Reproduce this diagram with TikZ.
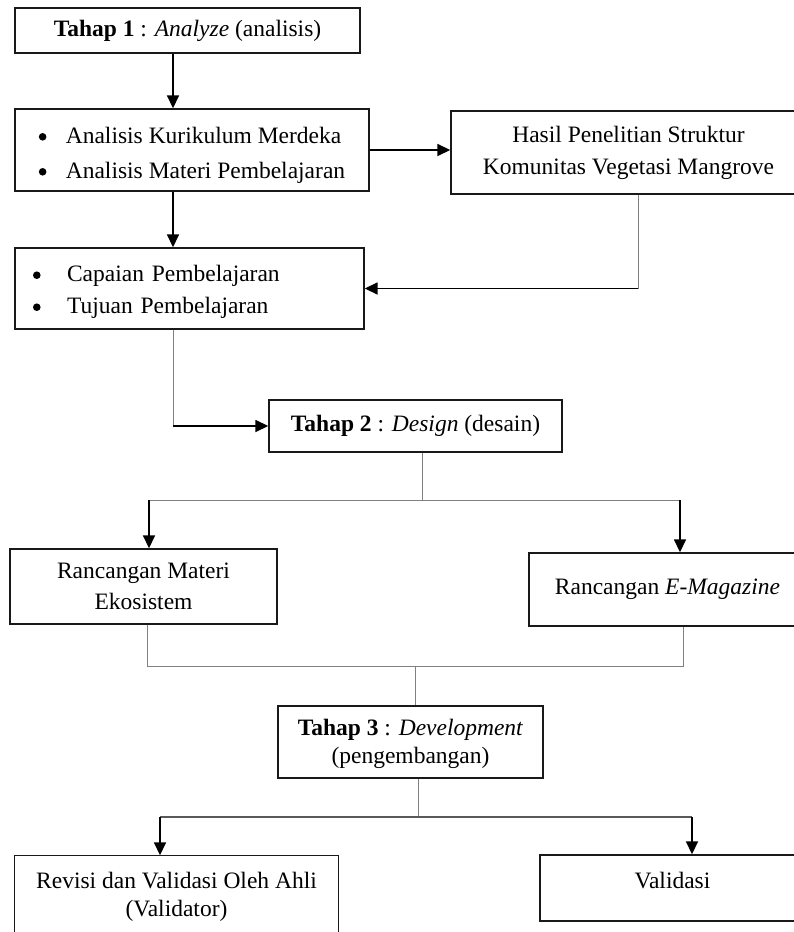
\documentclass[tikz,border=0pt]{standalone}
\usepackage{fontspec}
\setmainfont{Liberation Serif}
\usetikzlibrary{arrows.meta,calc}
\newcommand\blt{\tikz[baseline=-6.7pt]\fill[black] (0pt,0pt) circle (3.8pt);}
\newcommand\shiftby[2]{\vphantom{#2}\raisebox{#1}{\smash{#2}}}
\begin{document}
\begin{tikzpicture}[x=1pt,y=-1pt,
  box/.style={draw=black!90, line width=1.4pt, rectangle, inner sep=0pt, align=center,
    font=\fontsize{23.5}{32}\selectfont},
  boxline/.style={draw=black!90, line width=1.4pt},
  arr/.style={draw=black, line width=1.6pt, -{Triangle[length=13pt,width=12pt]}},
  gln/.style={draw=black!50, line width=1pt},
  gln2/.style={draw=black!65, line width=1.1pt},
  ]
\useasboundingbox (0,0) rectangle (793,932);

% boxes
\node[box, minimum width=345pt, minimum height=45pt] (t1) at (187.5,30.5)
  {\textbf{Tahap 1} : \textit{Analyze} (analisis)};
\node[box, minimum width=354pt, minimum height=82pt,
  font=\fontsize{23.5}{35}\selectfont] (an) at (192,150)
  {\shiftby{-4pt}{\begin{tabular}{@{}l@{}}\makebox[27pt][l]{\blt}Analisis Kurikulum Merdeka\\\makebox[27pt][l]{\blt}Analisis Materi Pembelajaran\end{tabular}}};
\node[box, minimum width=355pt, minimum height=83pt] (ha) at (628.5,152.5)
  {Hasil Penelitian Struktur\\Komunitas Vegetasi Mangrove};
\node[box, minimum width=349pt, minimum height=81pt, text width=313pt, inner xsep=18pt,
  align=left] (cp) at (189.5,288.5)
  {\shiftby{-3pt}{\begin{tabular}{@{}l@{}}\makebox[34pt][l]{\blt}Capaian Pembelajaran\\\makebox[34pt][l]{\blt}Tujuan Pembelajaran\end{tabular}}};
\node[box, minimum width=293pt, minimum height=52pt] (t2) at (415.5,426)
  {\textbf{Tahap 2} : \textit{Design} (desain)};
\node[box, minimum width=267pt, minimum height=75pt, font=\fontsize{23.5}{31}\selectfont] (rm) at (143.5,586.5)
  {Rancangan Materi\\Ekosistem};
\node[box, minimum width=277pt, minimum height=73pt] (em) at (667.5,589.5)
  {Rancangan \textit{E-Magazine}};
\node[box, minimum width=265pt, minimum height=72pt, font=\fontsize{23.5}{28}\selectfont] (t3) at (410.5,742)
  {\shiftby{-2pt}{\begin{tabular}{@{}c@{}}\textbf{Tahap 3} : \textit{Development}\\(pengembangan)\end{tabular}}};
\node[box, draw=none, minimum width=323pt, minimum height=76pt, font=\fontsize{23.5}{28}\selectfont] (rv) at (176.5,894)
  {\shiftby{-3pt}{\begin{tabular}{@{}c@{}}Revisi dan Validasi Oleh Ahli\\(Validator)\end{tabular}}};
\draw[boxline] (rv.south west) -- (rv.north west) -- (rv.north east) -- (rv.south east);
\node[box, minimum width=265pt, minimum height=66pt] (vl) at (672.5,888)
  {\raisebox{0pt}[12pt][12pt]{Validasi}};

% helper coordinates
\coordinate (xa) at (173,0);
\coordinate (xh) at (638,0);
\coordinate (jb) at (422,500);
\coordinate (bl) at (149,500);
\coordinate (br) at (680,500);
\coordinate (jl) at (147,666);
\coordinate (jr) at (683,666);
\coordinate (jm) at (415,666);
\coordinate (jc) at (418,817);
\coordinate (cl) at (160,817);
\coordinate (cr) at (692,817);

% connectors
\draw[arr] (t1.south -| xa) -- (an.north -| xa);
\draw[arr] (an.south -| xa) -- (cp.north -| xa);
\draw[arr] (an.east) -- (an.east -| ha.west);
\draw[gln] (ha.south -| xh) -- (xh |- cp.east);
\draw[arr] (xh |- cp.east) -- (cp.east);
\draw[gln] (cp.south -| xa) -- (xa |- t2.west);
\draw[arr] (xa |- t2.west) -- (t2.west);
\draw[gln] (t2.south -| jb) -- (jb);
\draw[gln] (bl) -- (br);
\draw[arr] (bl) -- (bl |- rm.north);
\draw[arr] (br) -- (br |- em.north);
\draw[gln] (rm.south -| jl) -- (jl) -- (jr) -- (em.south -| jr);
\draw[gln] (jm) -- (jm |- t3.north);
\draw[gln] (t3.south -| jc) -- (jc);
\draw[gln2] (cl) -- (cr);
\draw[arr] (cl) -- (cl |- rv.north);
\draw[arr] (cr) -- (cr |- vl.north);
\end{tikzpicture}
\end{document}
